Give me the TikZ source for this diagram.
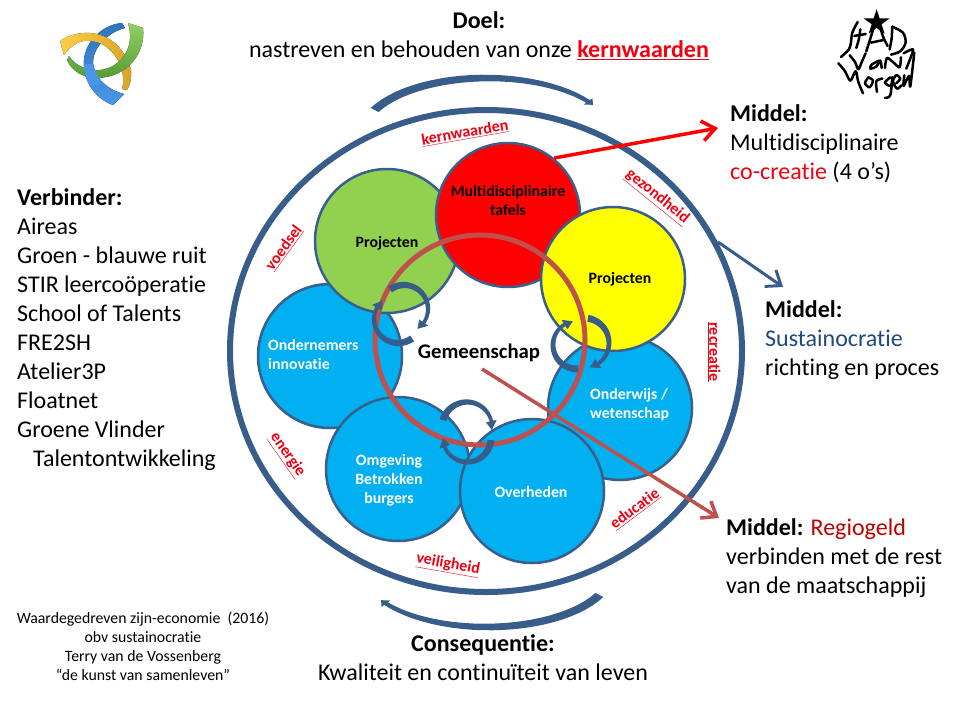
\documentclass[tikz,border=0pt]{standalone}
\usepackage{fontspec}
\setmainfont{Carlito}[Ligatures=NoCommon]
\usetikzlibrary{arrows.meta,shapes.geometric}
\definecolor{ringblue}{HTML}{385D8A}
\definecolor{circlines}{HTML}{3A5F8C}
\definecolor{skyfill}{HTML}{00B0F0}
\definecolor{grassfill}{HTML}{92D050}
\definecolor{sunfill}{HTML}{FFFF00}
\definecolor{redfill}{HTML}{FF0000}
\definecolor{brick}{HTML}{C0504D}
\definecolor{darkred}{HTML}{C00000}
\definecolor{labred}{HTML}{F00010}
\definecolor{inkblue}{HTML}{1F497D}
\definecolor{logoblueA}{HTML}{2F74BE}
\definecolor{logoblueB}{HTML}{4A96E8}
\definecolor{logoyelA}{HTML}{FBCF48}
\definecolor{logoyelB}{HTML}{D8A428}
\definecolor{logogreenA}{HTML}{92D264}
\definecolor{logogreenB}{HTML}{559C36}
\newcommand{\bigfont}{\fontsize{24}{29}\selectfont}
\newcommand{\tinyfont}{\fontsize{15.8}{19}\selectfont}
\tikzset{
    petal/.style={circle,draw=circlines,line width=2.5pt,minimum size=144pt,inner sep=0pt},
    inlabel/.style={font=\fontsize{15.8}{19}\selectfont\bfseries,align=center,inner sep=0pt},
    whitelabel/.style={inlabel,text=white},
    valuelabel/.style={font=\fontsize{16}{18}\selectfont\bfseries,text=labred,inner sep=0pt},
    bigtxt/.style={font=\bigfont,align=left,anchor=north west,inner sep=0pt},
    centertxt/.style={font=\bigfont,align=center,inner sep=0pt},
    lead/.style={-{Straight Barb[length=13pt,width=20pt]},line width=#1},
    swirlfill/.style={fill=ringblue},
    logostroke/.style={line width=2.5pt,line cap=round,line join=round},
}
% block arrow along an ellipse: cx, cy, rx, ry, from, to, tail width
\newcommand{\swirl}[7]{%
    \pgfmathsetmacro\swirlneck{#6-9/#3*57.3}
    \fill[swirlfill] plot[domain=#5:\swirlneck,samples=26]
        ({#1+(#3+#7*(0.5-0.25*(\x-#5)/(\swirlneck-#5)))*cos(\x)},
         {#2+(#4+#7*(0.5-0.25*(\x-#5)/(\swirlneck-#5)))*sin(\x)})
        -- ({#1+(#3+5.5)*cos(\swirlneck)},{#2+(#4+5.5)*sin(\swirlneck)})
        -- ({#1+#3*cos(#6)},{#2+#4*sin(#6)})
        -- ({#1+(#3-5.5)*cos(\swirlneck)},{#2+(#4-5.5)*sin(\swirlneck)})
        -- plot[domain=\swirlneck:#5,samples=26]
        ({#1+(#3-#7*(0.5-0.25*(\x-#5)/(\swirlneck-#5)))*cos(\x)},
         {#2+(#4-#7*(0.5-0.25*(\x-#5)/(\swirlneck-#5)))*sin(\x)})
        -- cycle;
}
\newcommand{\logoline}[1]{\draw[logostroke] plot[smooth] coordinates {#1};}
\newcommand{\bluepath}{(122,23) .. controls (100,25) and (82,45) .. (84,66) .. controls (85,85) and (98,100) .. (113,105) -- (124,94) .. controls (108,90) and (94,78) .. (93,62) .. controls (93,48) and (108,32) .. (125,28) -- cycle}

\begin{document}
\begin{tikzpicture}[x=1pt,y=-1pt]
    \useasboundingbox (0,0) rectangle (960,720);

    % left logo
    \fill[top color=logoblueA,bottom color=logoblueB] \bluepath;
    \fill[left color=logoyelA,right color=logoyelB]
        (60,41) .. controls (78,28) and (118,26) .. (131,70) .. controls (132,78) and (130,85) .. (127,90)
        -- (122,89) .. controls (128,70) and (112,38) .. (84,41) .. controls (76,42) and (69,48) .. (64,55) -- cycle;
    \fill[top color=logogreenA,bottom color=logogreenB]
        (128,23) -- (143,28) .. controls (146,52) and (128,78) .. (96,78) .. controls (85,78) and (72,72) .. (67,60)
        -- (69,56) .. controls (75,66) and (88,71) .. (100,70) .. controls (120,68) and (136,48) .. (128,23) -- cycle;
    \begin{scope}
        \clip (78,64) rectangle (100,84);
        \fill[logoblueB] \bluepath;
    \end{scope}

    % right logo, handwritten
    \begin{scope}[shift={(835,12)},x=0.333pt,y=-0.333pt]
        \node[star,star points=5,star point ratio=2.6,fill=black,minimum size=27pt,inner sep=0pt] (logostar) at (125,32) {};
        \logoline{(68,30) (52,62) (48,90) (42,112) (18,135)}
        \logoline{(76,52) (72,80) (64,108)}
        \logoline{(58,72) (92,66)}
        \logoline{(118,40) (106,80) (94,118)}
        \logoline{(134,42) (146,78) (158,102)}
        \logoline{(108,92) (146,84)}
        \logoline{(172,44) (170,80) (164,112)}
        \logoline{(172,44) (204,62) (212,92) (196,118) (168,128)}
        \logoline{(44,130) (60,150) (70,172) (82,146) (92,124)}
        \logoline{(132,146) (110,158) (106,170) (124,164) (136,146) (140,168)}
        \logoline{(150,168) (156,138) (176,152) (194,166) (198,136)}
        \logoline{(206,124) (234,112) (226,140) (214,170)}
        \logoline{(10,154) (30,178) (46,206) (62,178) (70,210) (84,244)}
        \logoline{(100,196) (90,214) (104,226) (114,206) (100,196)}
        \logoline{(126,240) (124,208) (142,200)}
        \logoline{(166,196) (150,212) (168,222) (172,196) (166,250) (150,258)}
        \logoline{(184,214) (196,200) (184,190) (174,208) (186,230) (200,220)}
        \logoline{(208,190) (206,222) (222,192) (226,224) (238,122)}
    \end{scope}

    % title and bottom line
    \node[centertxt] (doel) at (479,36) {\textbf{Doel:}\\nastreven en behouden van onze \textcolor{labred}{\underline{\textbf{kernwaarden}}}};
    \node[centertxt] (gevolg) at (483,658) {\textbf{Consequentie:}\\Kwaliteit en continuïteit van leven};

    % side texts
    \node[bigtxt] (verbinder) at (17,188) {\textbf{Verbinder:}\\Aireas\\Groen - blauwe ruit\\STIR leercoöperatie\\School of Talents\\FRE2SH\\Atelier3P\\Floatnet\\Groene Vlinder\\\hspace{16pt}Talentontwikkeling};
    \node[bigtxt] (middeltop) at (730,104) {\textbf{Middel:}\\Multidisciplinaire\\\textcolor{labred}{co-creatie} (4 o’s)};
    \node[bigtxt] (middelmid) at (765,300) {\textbf{Middel:}\\\textcolor{inkblue}{Sustainocratie}\\richting en proces};
    \node[bigtxt] (middellow) at (726,518) {\textbf{Middel:} \textcolor{darkred}{Regiogeld}\\verbinden met de rest\\van de maatschappij};
    \node[font=\tinyfont,align=center,inner sep=0pt] (bron) at (143,646) {Waardegedreven zijn-economie\ \ (2016)\\obv sustainocratie\\Terry van de Vossenberg\\“de kunst van samenleven”};

    % outer ring
    \draw[ringblue,line width=6pt] (486,351) ellipse [x radius=256,y radius=241];

    % circles, back to front
    \foreach \pos/\name/\col in {{(330,356)/ondernemers/skyfill},{(387,241)/groen/grassfill},
    {(508,215)/tafels/redfill},{(620,408)/onderwijs/skyfill},{(613,279)/geel/sunfill},
    {(398,469)/omgeving/skyfill},{(532,491)/overheden/skyfill}}
        \node[petal,fill=\col] (\name) at \pos {};

    % circle texts
    \foreach \pos/\name/\kind/\txt in {{(387,243)/tgroen/inlabel/Projecten},
    {(508,201)/ttafels/inlabel/{Multidisciplinaire\\tafels}},{(620,279)/tgeel/inlabel/Projecten},
    {(389,480)/tomgeving/whitelabel/{Omgeving\\Betrokken\\burgers}},
    {(531,492)/toverheden/whitelabel/Overheden}}
        \node[\kind] (\name) at \pos {\txt};
    \node[whitelabel,align=left,anchor=west] (tondernemers) at (268,355) {Ondernemers\\innovatie};
    \node[whitelabel,align=left,anchor=west] (tonderwijs) at (590,405) {Onderwijs /\\wetenschap};

    % values around the ring
    \foreach \pos/\rot/\val in {{(465,133)/10/kernwaarden},{(657,197)/-39/gezondheid},
    {(714,352)/-90/recreatie},{(635,509)/37/educatie},{(448,565)/-10/veiligheid},
    {(287,455)/-55/energie},{(284,248)/54/voedsel}}
        \node[valuelabel,rotate=\rot] (\val) at \pos {\underline{\val}};

    % community circle
    \draw[brick,line width=5pt] (480,340) circle [radius=105];
    \node[font=\fontsize{20.8}{23}\selectfont\bfseries,inner sep=0pt] (gemeenschap) at (479,353) {Gemeenschap};

    % pairs of turning arrows
    \swirl{404}{309}{24}{24}{234}{416}{7}
    \swirl{398}{319}{24}{24}{54}{230}{7}
    \swirl{584}{343}{25}{25}{279}{436}{7}
    \swirl{577}{345}{24}{24}{87}{260}{7}
    \swirl{467}{427}{25}{25}{196}{367}{7}
    \swirl{467}{438}{24}{24}{5}{180}{7}
    \swirl{487}{135}{125}{57}{206}{328}{9}
    \swirl{487}{570}{125}{57}{26}{148}{9}

    % leads to the texts
    \coordinate (ringout) at (718,242);
    \coordinate (toptip) at (718,128);
    \coordinate (midtip) at (783,287);
    \coordinate (lowstart) at (482,369);
    \coordinate (lowtip) at (719,518);
    \draw[lead=3.5pt,redfill] (tafels.51) -- (toptip);
    \draw[lead=3pt,ringblue] (ringout) -- (midtip);
    \draw[lead=3.5pt,brick] (lowstart) -- (lowtip);
\end{tikzpicture}
\end{document}
